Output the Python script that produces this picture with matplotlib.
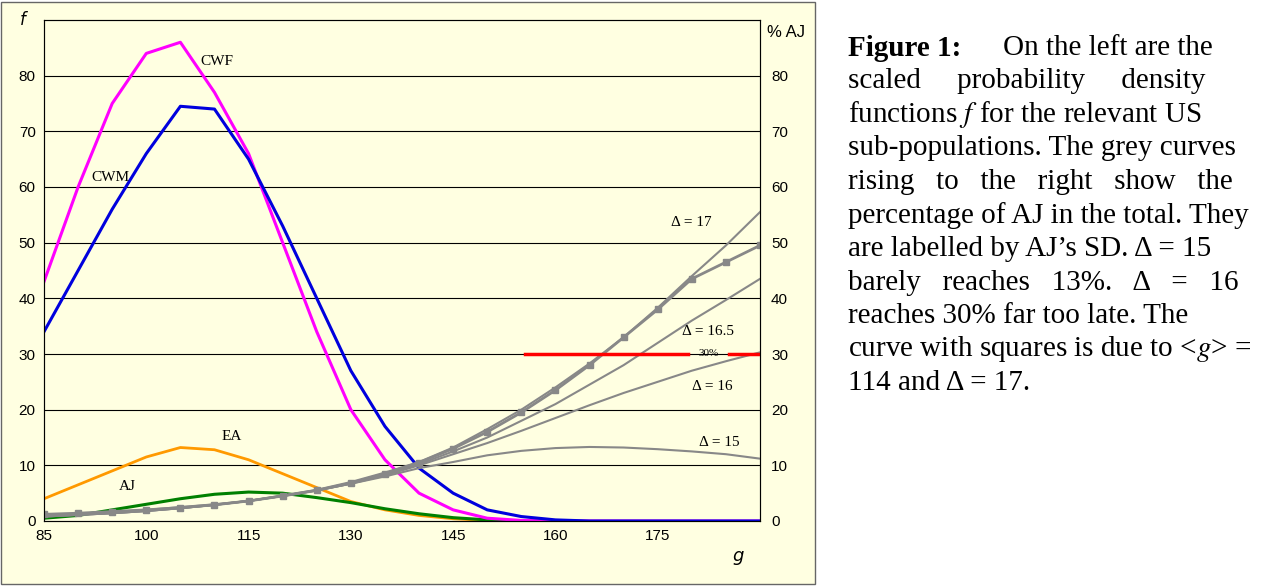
import matplotlib
matplotlib.use('Agg')
import matplotlib.pyplot as plt
from matplotlib.patches import Rectangle

plt.rcParams['mathtext.fontset'] = 'stix'

# densities f (left axis), sampled every 5 units of g
g = [85, 90, 95, 100, 105, 110, 115, 120, 125, 130, 135, 140, 145, 150, 155, 160, 165, 170, 175, 180, 185, 190]
cwf = [43, 60, 75, 84, 86, 77, 66, 50, 34, 20, 11, 5, 2, 0.5, 0.1, 0, 0, 0, 0, 0, 0, 0]
cwm = [34, 45, 56, 66, 74.5, 74, 65, 53, 40, 27, 17, 9.5, 5, 2, 0.8, 0.2, 0, 0, 0, 0, 0, 0]
ea = [4, 6.5, 9, 11.5, 13.2, 12.8, 11, 8.5, 6, 3.5, 2, 1, 0.4, 0.1, 0, 0, None, None, None, None, None, None]
aj = [0.5, 1, 2, 3, 4, 4.8, 5.2, 5, 4.2, 3.3, 2.2, 1.3, 0.6, 0.2, 0, 0, None, None, None, None, None, None]

# % AJ in total (right axis)
d15 = [1, 1.3, 1.6, 2, 2.5, 3, 3.6, 4.5, 5.5, 6.7, 8, 9.5, 10.6, 11.8, 12.6, 13.1, 13.3, 13.2, 12.9, 12.5, 12, 11.2]
d16 = [0.8, 1.1, 1.4, 1.8, 2.3, 2.9, 3.6, 4.5, 5.5, 6.7, 8.2, 10, 12, 14, 16.2, 18.5, 20.8, 23, 25, 27, 28.7, 30.3]
d165 = [0.8, 1.1, 1.4, 1.8, 2.3, 2.9, 3.6, 4.5, 5.5, 6.8, 8.4, 10.2, 12.5, 15, 18, 21, 24.5, 28, 32, 36, 39.7, 43.5]
d17 = [0.8, 1.1, 1.4, 1.8, 2.3, 2.9, 3.6, 4.6, 5.6, 7, 8.7, 10.6, 13.2, 16.5, 20, 24, 28.3, 33, 38.3, 44, 49.5, 55.5]
sq = [1.2, 1.4, 1.7, 2, 2.4, 2.9, 3.6, 4.5, 5.5, 6.8, 8.5, 10.5, 13, 16, 19.5, 23.5, 28, 33, 38, 43.5, 46.5, 49.5]

bg = '#FFFFE1'
fig = plt.figure(figsize=(12.65, 5.87), dpi=100)
fig.patches.append(Rectangle((1 / 1265, 3 / 587), 814 / 1265, 582 / 587, transform=fig.transFigure,
                             facecolor=bg, edgecolor='#666666', lw=1, zorder=-10))

ax = fig.add_axes([44 / 1265, 66 / 587, 716 / 1265, 501 / 587])
ax.set_facecolor(bg)
ax.set_xlim(85, 190)
ax.set_ylim(0, 90)
ax.set_xticks([85, 100, 115, 130, 145, 160, 175])
ax.set_yticks(range(0, 90, 10))
for y in range(10, 90, 10):
    ax.axhline(y, color='black', lw=0.8, zorder=0)
for s in ax.spines.values():
    s.set_color('#444444')
ax.tick_params(labelsize=11, direction='in', length=0, pad=6)
for lab in ax.get_xticklabels() + ax.get_yticklabels():
    lab.set_family('Liberation Sans')

ax2 = ax.twinx()
ax2.set_ylim(0, 90)
ax2.set_yticks(range(0, 90, 10))
ax2.tick_params(labelsize=11, length=0, pad=8)
for lab in ax2.get_yticklabels():
    lab.set_family('Liberation Sans')

grey = '#888888'
for d in (d15, d16, d165, d17):
    ax2.plot(g, d, color=grey, lw=1.5)
ax2.plot(g, sq, color=grey, lw=2, marker='s', ms=4)

ax.plot(g, ea, color='#FF9900', lw=2)
ax.plot(g, aj, color='#008000', lw=2.2)
ax.plot(g, cwf, color='#FF00FF', lw=2.2)
ax.plot(g, cwm, color='#0000DD', lw=2.2)

ax2.plot([155.5, 179.5], [30, 30], color='red', lw=2.5)
ax2.plot([185.5, 190], [30, 30], color='red', lw=2.5)
ax2.text(182.5, 30, '30%', fontsize=8, family='Liberation Serif', ha='center', va='center')

tf = dict(family='Liberation Serif', fontsize=11)
ax.text(108, 82, 'CWF', **tf)
ax.text(92, 61, 'CWM', **tf)
ax.text(111, 14.5, 'EA', **tf)
ax.text(96, 5.5, 'AJ', **tf)
ax2.text(177, 53, 'Δ = 17', **tf)
ax2.text(178.5, 33.5, 'Δ = 16.5', **tf)
ax2.text(180, 23.5, 'Δ = 16', **tf)
ax2.text(181, 13.5, 'Δ = 15', **tf)
ax.text(-0.025, 1.0, 'f', transform=ax.transAxes, fontsize=12, style='italic', ha='right', va='center')
ax2.text(1.01, 0.975, '% AJ', transform=ax.transAxes, fontsize=12, family='Liberation Sans', va='center')
ax.text(0.97, -0.07, 'g', transform=ax.transAxes, fontsize=13, style='italic', ha='center', va='center')

cap = ['On the left are the', 'scaled     probability     density',
       'functions $f$ for the relevant US', 'sub-populations. The grey curves',
       'rising   to   the   right   show   the', 'percentage of AJ in the total. They',
       'are labelled by AJ’s SD. Δ = 15', 'barely   reaches   13%.   Δ   =   16',
       'reaches 30% far too late. The', 'curve with squares is due to <$g$> =',
       '114 and Δ = 17.']
x0 = 848 / 1265
y0 = 1 - 48 / 587
dy = 33.5 / 587
cf = dict(family='Liberation Serif', fontsize=21, va='center', ha='left')
fig.text(x0, y0, 'Figure 1:', fontweight='bold', **cf)
fig.text(x0 + 155 / 1265, y0, cap[0], **cf)
for i, line in enumerate(cap[1:], start=1):
    fig.text(x0, y0 - i * dy, line, **cf)

fig.savefig('out.png', dpi=100)
